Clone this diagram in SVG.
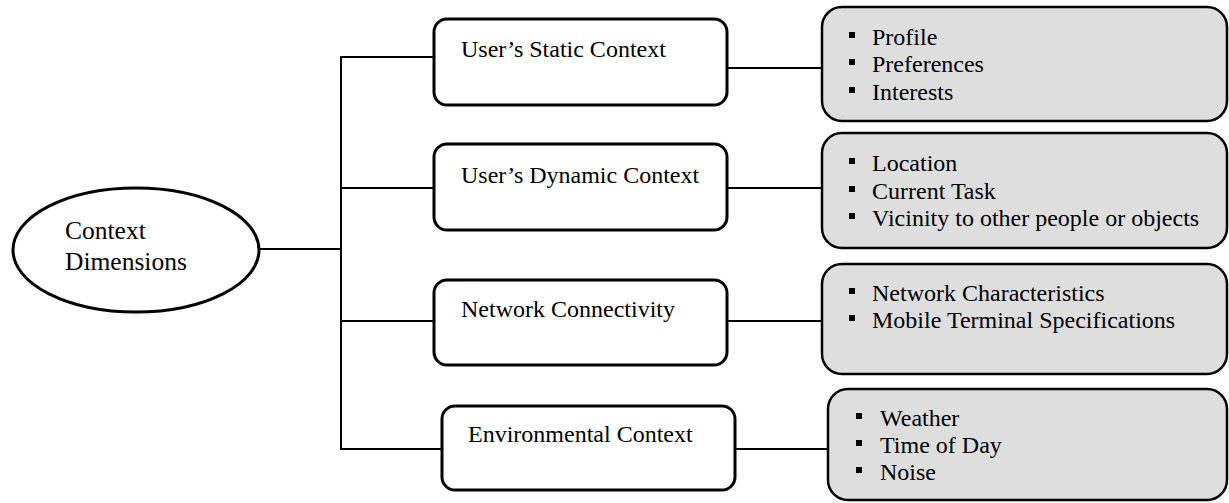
<svg xmlns="http://www.w3.org/2000/svg" width="1229" height="503" viewBox="0 0 1229 503">
<style>
.t{font-family:"Liberation Serif","Times New Roman",serif;font-size:24px;fill:#000}
.big{font-size:25.5px}
.mid{fill:#fff;stroke:#000;stroke-width:3}
.rt{fill:#dedede;stroke:#000;stroke-width:2.5}
.c{stroke:#000;stroke-width:2;fill:none}
.b{fill:#000}
</style>
<rect width="1229" height="503" fill="#fff"/>
<g id="connectors">
<line class="c" x1="259" y1="249" x2="341" y2="249"/>
<line class="c" x1="341" y1="56" x2="341" y2="450"/>
<line class="c" x1="340" y1="57" x2="434" y2="57"/>
<line class="c" x1="340" y1="188" x2="434" y2="188"/>
<line class="c" x1="340" y1="321" x2="434" y2="321"/>
<line class="c" x1="340" y1="449" x2="442" y2="449"/>
<line class="c" x1="727" y1="68" x2="822" y2="68"/>
<line class="c" x1="727" y1="188" x2="822" y2="188"/>
<line class="c" x1="727" y1="321" x2="822" y2="321"/>
<line class="c" x1="735" y1="449" x2="828" y2="449"/>
</g>
<g id="root">
<ellipse cx="136" cy="250" rx="123" ry="62" fill="#fff" stroke="#000" stroke-width="3"/>
<text class="t big" x="65" y="239">Context</text>
<text class="t big" x="65" y="270">Dimensions</text>
</g>
<g id="static">
<rect class="mid" x="434" y="19" width="293" height="86" rx="13"/>
<text class="t" x="461" y="57">User’s Static Context</text>
</g>
<g id="dynamic">
<rect class="mid" x="434" y="144" width="293" height="86" rx="13"/>
<text class="t" x="461" y="183">User’s Dynamic Context</text>
</g>
<g id="network">
<rect class="mid" x="434" y="280" width="293" height="85" rx="13"/>
<text class="t" x="461" y="317">Network Connectivity</text>
</g>
<g id="environment">
<rect class="mid" x="442" y="406" width="293" height="84" rx="13"/>
<text class="t" x="468" y="442">Environmental Context</text>
</g>
<g id="static-items">
<rect class="rt" x="822" y="7" width="405" height="114" rx="20"/>
<rect class="b" x="849" y="32" width="6" height="6"/>
<rect class="b" x="849" y="59" width="6" height="6"/>
<rect class="b" x="849" y="87" width="6" height="6"/>
<text class="t" x="872" y="45">Profile</text>
<text class="t" x="872" y="72">Preferences</text>
<text class="t" x="872" y="100">Interests</text>
</g>
<g id="dynamic-items">
<rect class="rt" x="822" y="133" width="405" height="115" rx="20"/>
<rect class="b" x="849" y="158" width="6" height="6"/>
<rect class="b" x="849" y="186" width="6" height="6"/>
<rect class="b" x="849" y="213" width="6" height="6"/>
<text class="t" x="872" y="171">Location</text>
<text class="t" x="872" y="199">Current Task</text>
<text class="t" x="872" y="226">Vicinity to other people or objects</text>
</g>
<g id="network-items">
<rect class="rt" x="822" y="264" width="405" height="110" rx="20"/>
<rect class="b" x="849" y="288" width="6" height="6"/>
<rect class="b" x="849" y="315" width="6" height="6"/>
<text class="t" x="872" y="301">Network Characteristics</text>
<text class="t" x="872" y="328">Mobile Terminal Specifications</text>
</g>
<g id="environment-items">
<rect class="rt" x="828" y="389" width="399" height="111" rx="20"/>
<rect class="b" x="856" y="413" width="6" height="6"/>
<rect class="b" x="856" y="440" width="6" height="6"/>
<rect class="b" x="856" y="467" width="6" height="6"/>
<text class="t" x="880" y="426">Weather</text>
<text class="t" x="880" y="453">Time of Day</text>
<text class="t" x="880" y="480">Noise</text>
</g>
</svg>
